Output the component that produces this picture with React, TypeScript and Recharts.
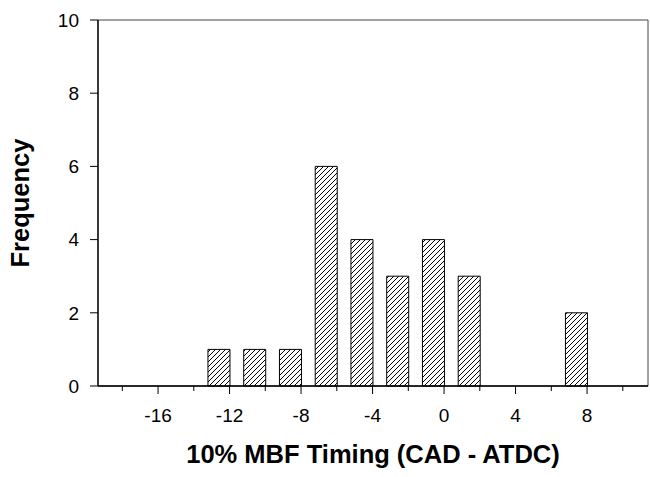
import React from 'react';
import { ComposedChart, Bar, XAxis, YAxis, Label, ReferenceArea } from 'recharts';

// Histogram bins: centre of each bar (CAD - ATDC) and its frequency
const binCenters = [-12.6, -10.6, -8.6, -6.6, -4.6, -2.6, -0.6, 1.4, 7.4];
const frequencies = [1, 1, 1, 6, 4, 3, 4, 3, 2];
const xTicks = [-18, -16, -14, -12, -10, -8, -6, -4, -2, 0, 2, 4, 6, 8, 10];
const yTicks = [0, 2, 4, 6, 8, 10];
const xDomain: [number, number] = [-19.36, 11.41];
const yDomain: [number, number] = [0, 10];

const data = binCenters.map((x, i) => ({ x, freq: frequencies[i] }));

const FONT = '"Liberation Sans", Arial, Helvetica, sans-serif';
const X_TICK_SIZE = 8;
const X_TICK_MARGIN = 15;

const XTick = (props: any) => {
  const { x, y, payload } = props;
  const v = payload.value as number;
  const major = v % 4 === 0;
  const axisY = y - (X_TICK_SIZE + X_TICK_MARGIN);
  return (
    <g>
      <line x1={x} x2={x} y1={axisY} y2={axisY + (major ? 8 : 5)} stroke="#000" strokeWidth={1} />
      {major && (
        <text x={x} y={y} dy="0.71em" textAnchor="middle" fill="#000" fontSize={19} fontFamily={FONT}>
          {String(v)}
        </text>
      )}
    </g>
  );
};

export default function App() {
  return (
    <div style={{ position: 'absolute', left: 0, top: 0, width: 650, height: 477, overflow: 'hidden', background: '#fff' }}>
      <ComposedChart
        width={650}
        height={477}
        data={data}
        margin={{ top: 20, right: 2, bottom: 0, left: 0 }}
        style={{ fontFamily: FONT }}
      >
        <defs>
          <pattern id="hatch" patternUnits="userSpaceOnUse" width="5" height="5">
            <rect x="0" y="0" width="5" height="5" fill="#fff" />
            <path d="M-1,1 L1,-1 M0,5 L5,0 M4,6 L6,4" stroke="#000" strokeWidth="1" />
          </pattern>
        </defs>
        <XAxis
          xAxisId="main"
          type="number"
          dataKey="x"
          domain={xDomain}
          ticks={xTicks}
          interval={0}
          height={91}
          tickSize={X_TICK_SIZE}
          tickMargin={X_TICK_MARGIN}
          tickLine={false}
          tick={<XTick />}
          axisLine={{ stroke: '#000', strokeWidth: 1.3 }}
        >
          <Label
            value="10% MBF Timing (CAD - ATDC)"
            position="insideBottom"
            offset={14}
            style={{ fontSize: 25.5, fontWeight: 'bold', fill: '#000', fontFamily: FONT }}
          />
        </XAxis>
        <YAxis
          yAxisId="main"
          type="number"
          domain={yDomain}
          ticks={yTicks}
          interval={0}
          width={98}
          tickSize={8}
          tickMargin={11}
          tick={{ fontSize: 19, fill: '#000', fontFamily: FONT }}
          tickLine={{ stroke: '#000', strokeWidth: 1 }}
          axisLine={{ stroke: '#000', strokeWidth: 1.3 }}
        >
          <Label
            value="Frequency"
            angle={-90}
            position="insideLeft"
            offset={20}
            style={{ fontSize: 25.5, fontWeight: 'bold', fill: '#000', fontFamily: FONT, textAnchor: 'middle' }}
          />
        </YAxis>
        <ReferenceArea
          xAxisId="main"
          yAxisId="main"
          x1={xDomain[0]}
          x2={xDomain[1]}
          y1={yDomain[0]}
          y2={yDomain[1]}
          fill="none"
          fillOpacity={0}
          stroke="#444"
          strokeWidth={1}
          ifOverflow="visible"
        />
        <Bar
          xAxisId="main"
          yAxisId="main"
          dataKey="freq"
          barSize={22}
          fill="url(#hatch)"
          stroke="#000"
          strokeWidth={1}
          isAnimationActive={false}
        />
      </ComposedChart>
    </div>
  );
}
